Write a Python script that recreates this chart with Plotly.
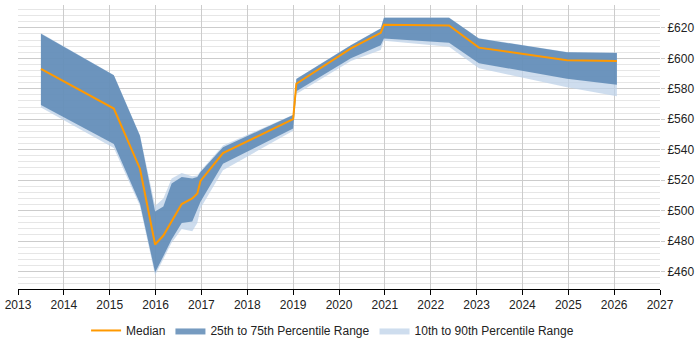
import plotly.graph_objects as go

years = [2013.5, 2015.09, 2015.66, 2015.99, 2016.17, 2016.35, 2016.57, 2016.80, 2016.91, 2016.98,
         2017.47, 2019.0, 2019.07, 2020.26, 2020.91, 2020.98, 2022.40, 2023.05, 2024.97, 2026.06]
median = [593, 567, 527.5, 477.7, 483.6, 492.9, 504.3, 508, 511.2, 519.5,
          537.7, 560, 583.3, 606.5, 616.7, 622, 621.6, 607, 598.7, 598.3]
p75 = [616.2, 588.8, 549.2, 499.4, 502.6, 517.7, 522, 521, 522, 525.3,
       541.6, 562.8, 586.4, 608.6, 619.5, 626.6, 626.6, 613, 603.9, 603.5]
p25 = [569.3, 543.7, 504.7, 459.3, 470, 481, 491.8, 492.9, 500.4, 505.8,
       530.7, 553.9, 578.4, 600, 608.6, 613, 610.2, 596.8, 586.6, 582.7]
p90 = [616.5, 589, 549.5, 503, 508, 521, 524.7, 522.5, 523, 526,
       542.7, 563, 586.6, 608.8, 619.7, 626.8, 626.8, 613.2, 604.2, 603.8]
p10 = [567.7, 541.1, 503, 457.5, 468, 478.8, 487.9, 486.4, 491.8, 501.5,
       526.4, 552.4, 576.6, 598.3, 605.4, 611.5, 607.6, 593.5, 581, 575.1]

x_ticks = list(range(2013, 2028))
y_ticks = list(range(460, 621, 20))

fig = go.Figure()
fig.add_trace(go.Scatter(
    x=years + years[::-1], y=p90 + p10[::-1], fill="toself",
    fillcolor="rgba(190,210,232,0.75)", line=dict(width=0),
    name="10th to 90th Percentile Range", legendrank=3, hoverinfo="skip"))
fig.add_trace(go.Scatter(
    x=years + years[::-1], y=p75 + p25[::-1], fill="toself",
    fillcolor="rgba(84,130,176,0.8)", line=dict(width=0),
    name="25th to 75th Percentile Range", legendrank=2, hoverinfo="skip"))
fig.add_trace(go.Scatter(
    x=years, y=median, mode="lines", line=dict(color="#ff9900", width=2),
    name="Median", legendrank=1))

font = dict(family="Liberation Sans, Arial, sans-serif", size=12, color="#222")
fig.update_layout(
    width=700, height=350,
    margin=dict(l=16, r=40, t=5, b=57),
    paper_bgcolor="white", plot_bgcolor="white",
    font=font,
    showlegend=True,
    legend=dict(orientation="h", x=0.49, xanchor="center", y=-0.146, yanchor="middle",
                font=dict(family="Liberation Sans, Arial, sans-serif", size=12, color="#222"),
                traceorder="normal", itemwidth=30),
    xaxis=dict(range=[2013, 2027], tickvals=x_ticks, ticktext=[str(t) for t in x_ticks],
               showgrid=True, gridcolor="#cccccc", gridwidth=1,
               showline=True, linecolor="black", linewidth=1,
               ticks="outside", ticklen=5, tickcolor="black", zeroline=False),
    yaxis=dict(range=[448.5, 635], side="right", tickvals=y_ticks,
               ticktext=["£%d" % v for v in y_ticks],
               showgrid=True, gridcolor="#cccccc", gridwidth=1,
               minor=dict(dtick=4, tick0=460, showgrid=True, gridcolor="#e6e6e6", gridwidth=1),
               ticks="outside", ticklen=4, tickcolor="#cccccc",
               showline=False, zeroline=False),
)
fig.write_html("out.html")
